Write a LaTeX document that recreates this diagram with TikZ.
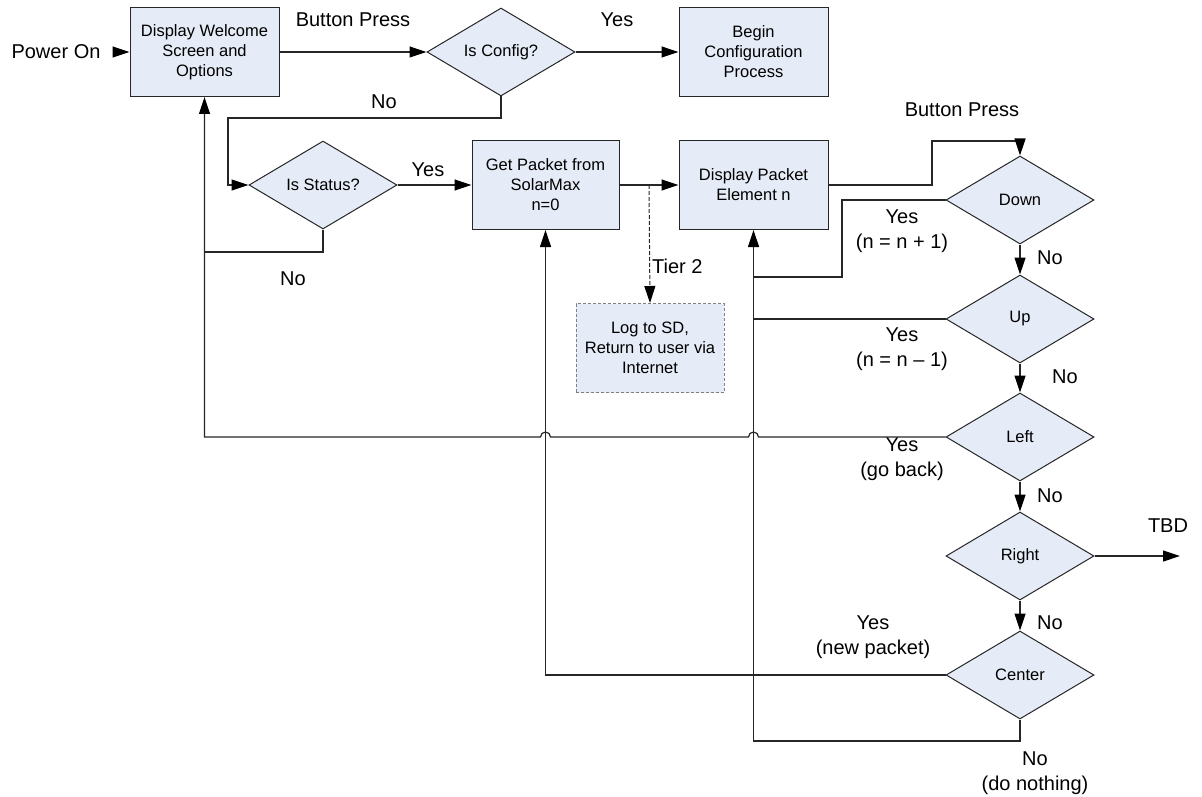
\documentclass[tikz,border=0pt]{standalone}
\usepackage{fontspec}
\setmainfont{Liberation Sans}
\usetikzlibrary{shapes.geometric,arrows.meta}
\definecolor{boxfill}{HTML}{E6ECF7}
\definecolor{wire}{HTML}{262626}
\begin{document}
\begin{tikzpicture}[x=1pt,y=-1pt,
  every node/.style={inner sep=0pt},
  proc/.style={rectangle,draw=wire,fill=boxfill,line width=1pt,
    minimum width=149pt,minimum height=89pt,align=center,
    font=\fontsize{16.5}{20}\selectfont},
  tierbox/.style={proc,draw=gray,dash pattern=on 3pt off 2pt},
  choice/.style={diamond,draw=wire,fill=boxfill,line width=1pt,aspect=1.68,
    minimum width=148pt,minimum height=88pt,align=center,
    font=\fontsize{16.5}{20}\selectfont},
  lbl/.style={align=center,font=\fontsize{20}{25}\selectfont},
  wirestyle/.style={draw=wire,line width=1.2pt},
  arr/.style={wirestyle,-{Triangle[length=17pt,width=11pt,fill=black,color=black]}},
  plain/.style={wirestyle}]
\useasboundingbox (0,0) rectangle (1202,797);

% process boxes
\node[proc] (welcome) at (204.5,52) {Display Welcome\\Screen and\\Options};
\node[proc] (begin) at (753.5,52) {Begin\\Configuration\\Process};
\node[proc,minimum width=147pt] (get) at (545.5,185) {Get Packet from\\SolarMax\\n=0};
\node[proc] (disp) at (753.5,185) {Display Packet\\Element n};
\node[tierbox,minimum width=148pt] (log) at (650,348) {Log to SD,\\Return to user via\\Internet};

% decisions
\node[choice] (config) at (501,52) {Is Config?};
\node[choice] (status) at (323,185) {Is Status?};
\node[choice] (down) at (1020,200) {Down};
\node[choice] (up) at (1020,319) {Up};
\node[choice] (left) at (1020,437) {Left};
\node[choice] (right) at (1020,556) {Right};
\node[choice] (center) at (1020,675) {Center};

% labels
\node[lbl] (lpower) at (56,52) {Power On};
\node[lbl] (lbp1) at (353,20) {Button Press};
\node[lbl] (lyes1) at (617,20) {Yes};
\node[lbl] (lno1) at (384,102) {No};
\node[lbl] (lyes2) at (428,170) {Yes};
\node[lbl] (lno2) at (293,279) {No};
\node[lbl,anchor=west] (ltier) at (652,266) {Tier 2};
\node[lbl] (lbp2) at (962,110) {Button Press};
\node[lbl] (lydown) at (902,231) {Yes\\(n = n + 1)};
\node[lbl] (lndown) at (1050,258) {No};
\node[lbl] (lyup) at (902,349) {Yes\\(n = n \textendash{} 1)};
\node[lbl] (lnup) at (1065,377) {No};
\node[lbl] (lyleft) at (902,459) {Yes\\(go back)};
\node[lbl] (lnleft) at (1050,496) {No};
\node[lbl] (ltbd) at (1168,526) {TBD};
\node[lbl] (lnright) at (1050,623) {No};
\node[lbl] (lycenter) at (873,637) {Yes\\(new packet)};
\node[lbl] (lncenter) at (1035,773) {No\\(do nothing)};

% bend points
\coordinate (pwr) at (113,52);
\coordinate (t2) at (649,185);
\coordinate (tbd) at (1180,556);

% connectors
\draw[arr] (pwr) -- (welcome.west);
\draw[arr] (welcome.east) -- (config.west);
\draw[arr] (config.east) -- (begin.west);
\draw[arr] (config.south) -- (501,118) -- (228,118) -- (228,185) -- (status.west);
\draw[arr] (status.east) -- (get.west);
\draw[plain] (status.south) -- (323,252) -- (204.5,252);
\draw[arr] (get.east) -- (disp.west);
\draw[arr,dash pattern=on 4pt off 2pt,line width=1pt] (t2) -- (log.north);
\draw[arr] (disp.east) -- (932,185) -- (932,141) -- (1020,141) -- (down.north);

\draw[arr] (down.south) -- (up.north);
\draw[arr] (up.south) -- (left.north);
\draw[arr] (left.south) -- (right.north);
\draw[arr] (right.south) -- (center.north);
\draw[arr] (right.east) -- (tbd);

\draw[arr] (center.west) -- (545.5,675) -- (get.south);
\draw[arr] (center.south) -- (1020,741) -- (753.5,741) -- (disp.south);
\draw[plain] (down.west) -- (842,200) -- (842,277) -- (753.5,277);
\draw[plain] (up.west) -- (753.5,319);
\draw[arr] (left.west) -- (758.5,437) arc[start angle=0,end angle=180,radius=5pt]
  -- (550.5,437) arc[start angle=0,end angle=180,radius=5pt]
  -- (204.5,437) -- (welcome.south);
\end{tikzpicture}
\end{document}
